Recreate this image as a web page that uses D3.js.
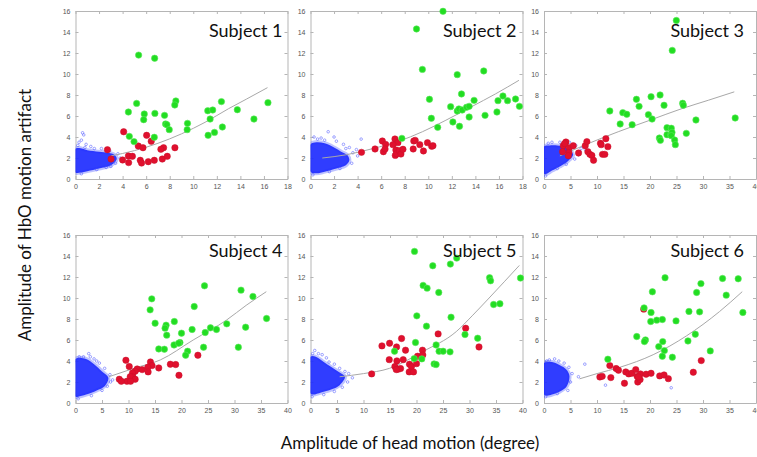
<!DOCTYPE html>
<html>
<head>
<meta charset="utf-8">
<script src="https://cdn.jsdelivr.net/npm/d3@7"></script>
<style>
  body { margin: 0; background: #fff; }
  svg { display: block; font-family: Lato, "Open Sans", sans-serif; }
</style>
</head>
<body>
<svg id="chart" width="757" height="457"></svg>
<script>
// tick labels
const yTicks = [0, 2, 4, 6, 8, 10, 12, 14, 16];
const xTicks18 = [0, 2, 4, 6, 8, 10, 12, 14, 16, 18];
const xTicks40 = [0, 5, 10, 15, 20, 25, 30, 35, 40];

// ---- Subject 1 ----
const green1 = [[5.36,11.8],[6.72,11.5],[5.19,7.2],[8.52,7.43],[8.43,7.05],[4.49,6.38],[5.84,6.19],[5.79,5.65],
  [6.74,6.25],[7.56,6.06],[7.65,5.24],[7.76,5.17],[7.96,4.7],[9.51,5.3],[9.48,4.7],[11.23,6.5],[11.65,6.57],
  [12.39,7.37],[11.43,5.71],[13.74,6.6],[15.15,5.71],[16.34,7.27],[11.26,4.16],[11.8,4.44],[12.47,4.95],
  [4.57,4.06],[4.97,3.56],[6.69,3.97]];
const red1 = [[4.09,4.5],[6.04,4.16],[5.33,3.14],[5.73,2.98],[6.43,3.59],[8.44,2.98],[7.48,2.98],[7.25,2.83],
  [2.71,2.79],[3.02,1.9],[4.0,1.81],[4.49,2.19],[4.83,2.16],[4.51,1.56],[5.5,1.78],[5.61,1.52],[6.18,1.65],
  [6.69,1.78],[7.37,1.9],[7.79,2.16]];
const curve1 = [[3,2.2],[5,2.7],[7,3.4],[9,4.3],[11,5.4],[13,6.7],[14.5,7.6],[16.3,8.7]];
const cloud1 = [[0,0.6],[0,2.9],[0.3,2.95],[1,2.75],[2,2.6],[2.8,2.5],[3.3,2.3],[3.5,1.9],[3,1.3],[2,1.0],[1,0.75],[0.3,0.6]];
const blue1 = [[0.6,4.4],[0.7,4.2],[0.5,3.7],[0.3,3.5],[0.9,3.3],[1.3,3.1],[0.2,3.2],[3.6,2.4],[3.2,1.7],
  [3.0,1.2],[2.6,1.1],[1.8,0.9],[0.5,0.5],[3.8,2.0],[2.2,2.9],[1.6,2.9],[0.8,3.0],[2.9,2.7],[3.4,1.5]];

// ---- Subject 2 ----
const green2 = [[11.25,15.97],[9.0,14.29],[9.5,10.44],[12.46,9.94],[14.71,10.29],[10.1,7.59],[12.82,8.1],
  [13.89,7.49],[10.26,5.78],[10.8,4.92],[11.9,6.89],[12.46,6.48],[12.6,6.67],[12.88,6.57],[13.25,6.83],
  [13.47,6.92],[12.09,5.43],[12.65,5.02],[13.47,5.9],[14.82,6.06],[15.83,6.38],[15.92,7.46],[16.34,7.9],
  [16.73,7.46],[17.41,7.62],[17.74,6.92],[7.76,3.87]];
const red2 = [[4.33,2.54],[5.48,2.86],[6.1,3.62],[6.38,3.3],[6.19,2.6],[6.33,2.86],[7.17,3.81],[7.42,3.46],
  [7.0,3.27],[7.25,2.76],[7.2,2.25],[7.31,2.41],[7.54,2.7],[7.68,2.38],[7.85,2.83],[8.77,3.62],[8.89,3.68],
  [8.72,2.86],[9.28,3.27],[9.59,2.67],[9.93,3.46],[10.29,3.11],[10.4,3.17]];
const curve2 = [[1,2.0],[3,2.3],[5.3,2.9],[7.5,3.6],[9.5,4.5],[11.5,5.6],[13.7,6.9],[15.7,8.1],[17.7,9.4]];
const cloud2 = [[0,0.7],[0,3.3],[0.5,3.5],[1.2,3.4],[2,3.0],[2.6,2.6],[3.1,2.3],[3.3,1.8],[3.0,1.3],[2.2,1.0],[1.2,0.7],[0.5,0.55]];
const blue2 = [[0.3,4.0],[0.9,3.9],[1.5,4.5],[1.2,3.7],[2.2,3.6],[2.8,3.3],[3.3,3.0],[4.3,3.8],[3.6,2.5],
  [4.0,2.2],[3.5,1.5],[2.5,1.0],[1.6,0.7],[0.2,0.4],[3.9,2.8],[2.0,4.0],[0.6,3.8],[3.0,2.9]];

// ---- Subject 3 ----
const green3 = [[24.97,15.1],[24.2,12.25],[17.44,7.59],[20.2,7.84],[21.9,8.0],[22.65,7.02],[26.16,7.21],
  [26.29,7.02],[17.94,6.92],[12.42,6.48],[14.87,6.32],[15.62,6.16],[19.7,6.13],[20.39,5.71],[14.37,5.24],
  [16.63,5.17],[28.67,5.62],[36.07,5.81],[23.21,4.89],[24.02,4.83],[23.21,4.22],[23.9,4.22],[24.15,4.44],
  [24.02,4.13],[26.85,4.35],[21.77,3.9],[21.96,3.68],[24.65,3.71],[24.78,3.27]];
const red3 = [[4.14,3.52],[3.64,3.17],[4.77,2.98],[5.52,3.17],[4.7,2.51],[4.58,2.22],[6.52,2.48],[7.78,3.17],
  [8.09,3.56],[8.28,2.6],[8.66,2.35],[9.03,2.25],[9.35,1.78],[10.66,3.4],[10.79,3.27],[11.67,3.84],[12.05,3.08],
  [11.04,2.35],[11.48,2.35],[3.51,2.6],[3.89,3.37]];
const curve3 = [[3,2.2],[8,3.3],[14,4.5],[20,5.6],[26,6.7],[31,7.5],[35.9,8.3]];
const cloud3 = [[0,0.5],[0,3.1],[1,3.2],[2.5,3.2],[4,3.0],[5,2.7],[5.5,2.3],[4.5,1.7],[3,1.2],[1.5,0.8],[0.5,0.5]];
const blue3 = [[3,3.5],[4.8,3.5],[6,3.2],[7,2.9],[7.8,2.8],[6.5,2.3],[5.8,1.9],[4.2,1.4],[2.5,1.0],[0.3,0.3],
  [1.5,3.5],[5.5,3.0],[3.5,3.3],[0.8,3.4],[6.8,2.6]];

// ---- Subject 4 ----
const green4 = [[24.34,11.16],[31.23,10.75],[33.48,10.15],[14.39,9.92],[22.4,9.19],[14.08,8.87],[15.02,7.6],
  [18.65,7.76],[17.09,7.41],[16.9,7.13],[17.21,6.46],[20.0,6.65],[22.0,7.0],[24.47,6.71],[25.47,7.16],[26.6,7.0],
  [28.54,7.54],[32.1,7.22],[36.05,8.05],[18.59,5.53],[19.71,5.76],[19.46,5.69],[15.71,5.15],[16.77,5.12],
  [24.16,5.31],[30.73,5.31],[21.15,4.93],[20.78,4.55]];
const red4 = [[9.51,4.07],[10.14,3.47],[14.14,3.91],[14.45,3.56],[13.64,3.4],[13.7,2.96],[15.71,3.34],[11.64,3.24],
  [12.58,3.18],[11.26,3.02],[10.76,2.86],[10.83,2.48],[10.33,2.51],[11.26,2.26],[9.7,2.07],[10.39,2.07],
  [8.26,2.26],[8.64,2.07],[17.9,3.69],[18.9,3.66],[19.52,2.64],[23.09,4.55]];
const curve4 = [[6.3,2.5],[11,3.3],[16,4.1],[22.2,6.0],[28.5,7.9],[32.2,9.3],[36,10.6]];
const cloud4 = [[0,0.6],[0,4.2],[2,4.2],[3.5,3.7],[5,3.0],[6.2,2.4],[5.5,1.6],[4,1.2],[2,0.8],[0.5,0.6]];
const blue4 = [[2.5,4.7],[1.5,4.4],[3.5,4.2],[4.5,3.8],[5.5,3.3],[6.5,2.7],[7,2.2],[6,1.6],[5,1.2],[3,0.7],
  [0.5,0.4],[4,4.0],[2.8,4.4],[0.7,4.4],[6.6,2.0]];

// ---- Subject 5 ----
const green5 = [[19.62,14.44],[23.07,13.07],[26.39,13.23],[27.59,13.8],[33.79,11.93],[33.98,11.64],[39.62,11.9],
  [21.25,11.2],[22.0,10.94],[24.2,10.53],[34.55,9.38],[35.74,9.45],[20.06,8.3],[26.52,8.17],[21.88,7.32],
  [29.15,6.52],[31.54,6.17],[19.81,5.76],[23.7,5.53],[15.86,4.93],[24.26,4.93],[25.02,4.93],[26.33,4.87],
  [19.56,4.23],[21.0,4.2],[23.32,3.72],[23.7,3.66]];
const red5 = [[11.54,2.77],[13.48,5.44],[14.92,5.69],[16.24,5.34],[17.18,6.14],[17.93,5.03],[14.86,4.13],
  [16.3,4.01],[17.49,4.13],[15.92,3.47],[16.49,3.21],[16.99,3.28],[16.18,3.18],[18.68,3.69],[19.06,3.47],
  [18.62,2.96],[19.44,2.96],[20.0,3.75],[20.19,4.45],[21.13,5.03],[21.19,4.58],[24.08,6.58],[29.28,7.12],[31.79,5.34]];
const curve5 = [[5.5,2.5],[10,2.8],[14.9,3.3],[21.2,4.9],[27.5,6.8],[30.5,8.3],[33.7,10.0],[39.4,13.1]];
const cloud5 = [[0,0.9],[0,4.4],[1,4.4],[2.5,3.9],[4,3.4],[5.5,2.9],[6.5,2.5],[5.5,1.7],[4,1.3],[2,1.0],[0.5,0.8]];
const blue5 = [[0.8,5.0],[1.5,4.7],[2.2,4.6],[3,4.3],[4.5,3.7],[5.5,3.3],[6.5,3.0],[7.2,2.8],[7.9,2.4],[7,2.0],
  [6,1.5],[4.5,1.1],[2.5,0.8],[0.3,0.6],[3.5,3.9],[0.4,4.7]];

// ---- Subject 6 ----
const green6 = [[22.84,11.93],[33.69,11.86],[36.64,11.83],[29.61,11.37],[20.45,10.59],[28.8,10.53],[34.38,10.27],
  [18.88,9.06],[20.2,8.62],[27.35,8.72],[29.36,8.68],[37.52,8.62],[21.27,7.89],[22.33,7.95],[24.91,7.82],
  [20.14,7.76],[17.5,6.33],[28.55,6.55],[19.14,6.01],[18.95,5.85],[22.4,5.85],[27.16,5.91],[21.65,5.37],
  [22.71,4.99],[31.37,4.96],[22.33,4.45],[24.22,4.36],[12.05,4.17]];
const red6 = [[18.82,8.94],[12.42,3.56],[13.61,3.28],[14.05,3.12],[10.54,2.48],[10.98,2.54],[12.61,2.42],
  [15.18,1.88],[15.43,2.96],[15.99,2.77],[16.56,2.83],[17.31,3.18],[17.57,2.54],[17.69,2.0],[18.13,2.23],
  [18.19,2.77],[19.26,2.74],[20.2,2.83],[21.83,2.58],[22.65,2.67],[23.46,2.32],[28.17,2.93],[29.67,4.04],[17.82,2.48]];
const curve6 = [[6.7,2.3],[10,2.8],[14.3,3.4],[20.6,4.6],[26.9,6.4],[33.1,8.7],[37.4,10.6]];
const cloud6 = [[0,0.8],[0,3.8],[1.5,3.9],[3,3.6],[4.2,3.2],[4.8,2.6],[4.3,1.6],[3,1.1],[1.5,0.8],[0.5,0.7]];
const blue6 = [[1,4.1],[2,4.2],[2.8,4.0],[3.8,3.8],[4.7,3.4],[5.3,2.8],[5,2.0],[4.5,1.2],[2.5,0.9],[0.3,0.6],
  [7.7,3.7],[6.5,2.5],[11.6,1.7],[24,1.45],[0.5,4.0]];

const subjects = [
  { name: "Subject 1", xMax: 18, xTicks: xTicks18, green: green1, red: red1, curve: curve1, cloud: cloud1, blue: blue1 },
  { name: "Subject 2", xMax: 18, xTicks: xTicks18, green: green2, red: red2, curve: curve2, cloud: cloud2, blue: blue2 },
  { name: "Subject 3", xMax: 40, xTicks: xTicks40, green: green3, red: red3, curve: curve3, cloud: cloud3, blue: blue3 },
  { name: "Subject 4", xMax: 40, xTicks: xTicks40, green: green4, red: red4, curve: curve4, cloud: cloud4, blue: blue4 },
  { name: "Subject 5", xMax: 40, xTicks: xTicks40, green: green5, red: red5, curve: curve5, cloud: cloud5, blue: blue5 },
  { name: "Subject 6", xMax: 40, xTicks: xTicks40, green: green6, red: red6, curve: curve6, cloud: cloud6, blue: blue6 }
];

const svg = d3.select('#chart');

const colLeft = [75.5, 310.5, 544];
const rowTop = [11, 235];
const pw = 212, ph = 168;
const titleDx = [5, 6, 12];
const titleDy = [26, 22];

subjects.forEach((s, i) => {
  const col = i % 3, row = Math.floor(i / 3);
  const g = svg.append('g').attr('transform', `translate(${colLeft[col]},${rowTop[row]})`);

  const x = d3.scaleLinear().domain([0, s.xMax]).range([0, pw]);
  const y = d3.scaleLinear().domain([0, 16]).range([ph, 0]);

  g.append('clipPath').attr('id', 'clip' + i)
    .append('rect').attr('width', pw).attr('height', ph);

  // box + inward ticks (matlab style)
  const axisStyle = (sel) => {
    sel.select('.domain').attr('stroke', '#b5b5b5');
    sel.selectAll('.tick line').attr('stroke', '#b5b5b5');
    sel.selectAll('.tick text').attr('fill', '#555').style('font-size', '7px')
      .style('font-family', 'Arial, "Liberation Sans", sans-serif');
  };
  g.append('g').attr('transform', `translate(0,${ph})`)
    .call(d3.axisBottom(x).tickValues(s.xTicks).tickSize(-3).tickSizeOuter(0).tickPadding(5))
    .call(axisStyle);
  g.append('g')
    .call(d3.axisLeft(y).tickValues(yTicks).tickSize(-3).tickSizeOuter(0).tickPadding(5))
    .call(axisStyle);
  g.append('g')
    .call(d3.axisTop(x).tickValues(s.xTicks).tickSize(-3).tickSizeOuter(0).tickFormat(''))
    .call(axisStyle);
  g.append('g').attr('transform', `translate(${pw},0)`)
    .call(d3.axisRight(y).tickValues(yTicks).tickSize(-3).tickSizeOuter(0).tickFormat(''))
    .call(axisStyle);

  const plot = g.append('g').attr('clip-path', `url(#clip${i})`);

  // blue cloud: dense core + sparse markers
  const area = d3.line().x(d => x(d[0])).y(d => y(d[1])).curve(d3.curveCatmullRomClosed.alpha(0.5));
  plot.append('path').attr('d', area(s.cloud))
    .attr('fill', 'none').attr('stroke', '#6f7aff').attr('stroke-width', 4).attr('stroke-opacity', 0.45);
  plot.append('path').attr('d', area(s.cloud))
    .attr('fill', '#1e2cff').attr('fill-opacity', 0.92);
  plot.selectAll('.blue').data(s.blue).enter().append('circle')
    .attr('cx', d => x(d[0])).attr('cy', d => y(d[1])).attr('r', 1.3)
    .attr('fill', 'none').attr('stroke', '#4a55ff').attr('stroke-width', 0.7).attr('stroke-opacity', 0.75);

  // fit curve
  plot.append('path')
    .attr('d', d3.line().x(d => x(d[0])).y(d => y(d[1])).curve(d3.curveMonotoneX)(s.curve))
    .attr('fill', 'none').attr('stroke', '#a8a8a8').attr('stroke-width', 1);

  g.selectAll('.red').data(s.red).enter().append('circle')
    .attr('cx', d => x(d[0])).attr('cy', d => y(d[1])).attr('r', 3.2)
    .attr('fill', '#e0102e').attr('stroke', '#c8102a').attr('stroke-width', 0.5);
  g.selectAll('.green').data(s.green).enter().append('circle')
    .attr('cx', d => x(d[0])).attr('cy', d => y(d[1])).attr('r', 3.2)
    .attr('fill', '#22dd22').attr('stroke', '#5de85d').attr('stroke-width', 0.6);

  g.append('text')
    .attr('x', pw - titleDx[col]).attr('y', titleDy[row])
    .attr('text-anchor', 'end').attr('fill', '#111')
    .style('font-size', '18px')
    .text(s.name);
});

svg.append('text')
  .attr('transform', 'translate(31,215) rotate(-90)')
  .attr('text-anchor', 'middle').attr('fill', '#111')
  .style('font-size', '17px')
  .text('Amplitude of HbO motion artifact');

svg.append('text')
  .attr('x', 410).attr('y', 449)
  .attr('text-anchor', 'middle').attr('fill', '#111')
  .style('font-size', '17px')
  .text('Amplitude of head motion (degree)');
</script>
</body>
</html>
